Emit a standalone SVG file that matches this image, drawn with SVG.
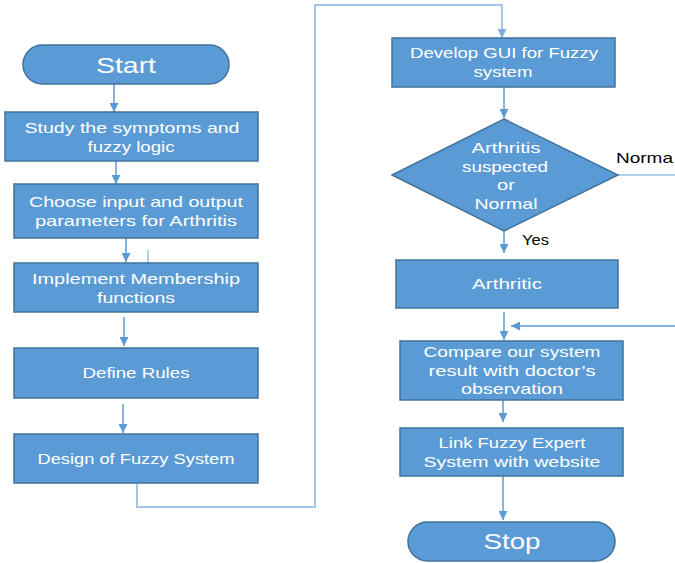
<svg xmlns="http://www.w3.org/2000/svg" width="675" height="563" viewBox="0 0 675 563">
<defs>
<marker id="ah" viewBox="0 0 10 10" refX="10" refY="5" markerWidth="6" markerHeight="6" markerUnits="strokeWidth" orient="auto">
<path d="M0,0 L10,5 L0,10 z" fill="#5B9BD5"/>
</marker>
<marker id="ahl" viewBox="0 0 10 10" refX="10" refY="5" markerWidth="4.5" markerHeight="4.5" markerUnits="strokeWidth" orient="auto">
<path d="M0,0 L10,5 L0,10 z" fill="#7EAEDD"/>
</marker>
</defs>
<style>
.box{fill:#5B9BD5;stroke:#41719C;stroke-width:1.5}
.t{font-family:"Liberation Sans",Arial,sans-serif;font-size:15px;fill:#ffffff;text-anchor:middle}
.big{font-size:22px}
.lbl{font-family:"Liberation Sans",Arial,sans-serif;font-size:15px;fill:#000000}
.c{fill:none;stroke:#5B9BD5;stroke-width:1.5}
.cl{fill:none;stroke:#A3C6E9;stroke-width:2}
</style>
<rect width="675" height="563" fill="#ffffff"/>

<g id="connectors">
<line class="c" x1="114" y1="84" x2="114" y2="112" marker-end="url(#ah)"/>
<line class="c" x1="116" y1="161" x2="116" y2="184" marker-end="url(#ah)"/>
<line class="c" x1="126" y1="238" x2="126" y2="262" marker-end="url(#ah)"/>
<line class="c" x1="148" y1="250" x2="148" y2="263" style="stroke:#9DC3E6"/>
<line class="c" x1="124" y1="317" x2="124" y2="346" marker-end="url(#ah)"/>
<line class="c" x1="123" y1="404" x2="123" y2="433" marker-end="url(#ah)"/>
<polyline class="cl" points="137,483 137,507 315,507 315,5 502,5 502,38" marker-end="url(#ahl)"/>
<line class="c" x1="504" y1="87" x2="504" y2="118" marker-end="url(#ah)"/>
<line class="c" x1="618" y1="175" x2="675" y2="175" style="stroke:#9DC3E6"/>
<line class="c" x1="504" y1="231" x2="504" y2="253" marker-end="url(#ah)"/>
<line class="c" x1="504" y1="312" x2="504" y2="340" marker-end="url(#ah)"/>
<line class="c" x1="675" y1="326" x2="511" y2="326" marker-end="url(#ah)"/>
<line class="c" x1="503" y1="400" x2="503" y2="422" marker-end="url(#ah)"/>
<line class="c" x1="503" y1="476" x2="503" y2="520" marker-end="url(#ah)"/>
<text class="lbl" x="616" y="163" textLength="57" lengthAdjust="spacingAndGlyphs">Norma</text>
<text class="lbl" x="522" y="245" textLength="27" lengthAdjust="spacingAndGlyphs">Yes</text>
</g>

<g id="start">
<rect class="box" x="23" y="45" width="206" height="39" rx="19.5"/>
<text class="t big" x="126" y="73" textLength="60" lengthAdjust="spacingAndGlyphs">Start</text>
</g>
<g id="study">
<rect class="box" x="5" y="112" width="253" height="49"/>
<text class="t" x="132" y="133" textLength="215" lengthAdjust="spacingAndGlyphs">Study the symptoms and</text>
<text class="t" x="131" y="152" textLength="87" lengthAdjust="spacingAndGlyphs">fuzzy logic</text>
</g>
<g id="choose">
<rect class="box" x="14" y="184" width="244" height="54"/>
<text class="t" x="136" y="207" textLength="214" lengthAdjust="spacingAndGlyphs">Choose input and output</text>
<text class="t" x="136" y="226" textLength="202" lengthAdjust="spacingAndGlyphs">parameters for Arthritis</text>
</g>
<g id="implement">
<rect class="box" x="14" y="263" width="244" height="49"/>
<text class="t" x="136" y="284" textLength="208" lengthAdjust="spacingAndGlyphs">Implement Membership</text>
<text class="t" x="136" y="303" textLength="78" lengthAdjust="spacingAndGlyphs">functions</text>
</g>
<g id="define">
<rect class="box" x="14" y="348" width="244" height="50"/>
<text class="t" x="136" y="378" textLength="107" lengthAdjust="spacingAndGlyphs">Define Rules</text>
</g>
<g id="design">
<rect class="box" x="14" y="434" width="244" height="49"/>
<text class="t" x="136" y="464" textLength="197" lengthAdjust="spacingAndGlyphs">Design of Fuzzy System</text>
</g>
<g id="develop">
<rect class="box" x="392" y="38" width="223" height="49"/>
<text class="t" x="504" y="58" textLength="188" lengthAdjust="spacingAndGlyphs">Develop GUI for Fuzzy</text>
<text class="t" x="503" y="77" textLength="59" lengthAdjust="spacingAndGlyphs">system</text>
</g>
<g id="decision">
<polygon class="box" points="504,119 618,175 504,231 392,175"/>
<text class="t" x="506" y="153" textLength="69" lengthAdjust="spacingAndGlyphs">Arthritis</text>
<text class="t" x="505" y="172" textLength="86" lengthAdjust="spacingAndGlyphs">suspected</text>
<text class="t" x="506" y="190" textLength="18" lengthAdjust="spacingAndGlyphs">or</text>
<text class="t" x="506" y="209" textLength="63" lengthAdjust="spacingAndGlyphs">Normal</text>
</g>
<g id="arthritic">
<rect class="box" x="396" y="260" width="222" height="48"/>
<text class="t" x="507" y="289" textLength="70" lengthAdjust="spacingAndGlyphs">Arthritic</text>
</g>
<g id="compare">
<rect class="box" x="400" y="341" width="223" height="59"/>
<text class="t" x="512" y="357" textLength="177" lengthAdjust="spacingAndGlyphs">Compare our system</text>
<text class="t" x="512" y="376" textLength="167" lengthAdjust="spacingAndGlyphs">result with doctor’s</text>
<text class="t" x="512" y="394" textLength="102" lengthAdjust="spacingAndGlyphs">observation</text>
</g>
<g id="link">
<rect class="box" x="400" y="428" width="223" height="48"/>
<text class="t" x="512" y="448" textLength="147" lengthAdjust="spacingAndGlyphs">Link Fuzzy Expert</text>
<text class="t" x="512" y="467" textLength="177" lengthAdjust="spacingAndGlyphs">System with website</text>
</g>
<g id="stop">
<rect class="box" x="408" y="522" width="207" height="39" rx="19.5"/>
<text class="t big" x="512" y="549" textLength="57" lengthAdjust="spacingAndGlyphs">Stop</text>
</g>
</svg>
